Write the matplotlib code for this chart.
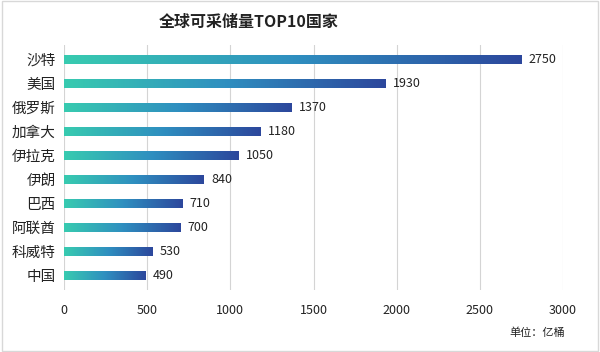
import numpy as np
import matplotlib.pyplot as plt
from matplotlib.colors import LinearSegmentedColormap
from matplotlib.patches import Rectangle

plt.rcParams['font.family'] = ['Noto Sans CJK SC', 'DejaVu Sans']

countries = ['沙特', '美国', '俄罗斯', '加拿大', '伊拉克', '伊朗', '巴西', '阿联酋', '科威特', '中国']
reserves = [2750, 1930, 1370, 1180, 1050, 840, 710, 700, 530, 490]
xticks = [0, 500, 1000, 1500, 2000, 2500, 3000]

cmap = LinearSegmentedColormap.from_list('bar', ['#38cbb0', '#2f8fc0', '#2c479c'])
grad = np.linspace(0, 1, 256).reshape(1, -1)

fig = plt.figure(figsize=(6, 3.52), dpi=100)
fig.patches.append(Rectangle((0.003, 0.003), 0.994, 0.994, transform=fig.transFigure,
                             fill=False, edgecolor='#d8d8d8', linewidth=1))
ax = fig.add_axes([64 / 600, 1 - 290 / 352, 499 / 600, 245 / 352])

ypos = np.arange(len(countries))
bar_h = 0.36
for y, v in zip(ypos, reserves):
    rect = Rectangle((0, y - bar_h / 2), v, bar_h, facecolor='none', edgecolor='none')
    ax.add_patch(rect)
    im = ax.imshow(grad, cmap=cmap, aspect='auto', extent=(0, v, y + bar_h / 2, y - bar_h / 2),
                   zorder=2)
    im.set_clip_path(rect)
    ax.text(v + 45, y, str(v), va='center', ha='left', fontsize=9, color='#222222')

ax.set_xlim(0, 3000)
ax.set_ylim(9.6, -0.6)
ax.set_xticks(xticks)
ax.set_xticklabels([str(t) for t in xticks], fontsize=9)
ax.set_yticks(ypos)
ax.set_yticklabels(countries, fontsize=10.5)
ax.tick_params(axis='both', length=0, colors='#222222')
ax.tick_params(axis='x', pad=10)
ax.tick_params(axis='y', pad=6)
ax.grid(axis='x', color='#d4d4d4', linewidth=0.8, zorder=0)
ax.set_axisbelow(True)
for s in ax.spines.values():
    s.set_visible(False)

fig.text(249 / 600, 1 - 22 / 352, '全球可采储量TOP10国家', ha='center', va='center',
         fontsize=11.5, fontweight='bold', color='#222222')
fig.text(537 / 600, 1 - 333 / 352, '单位：亿桶', ha='center', va='center', fontsize=8, color='#222222')

fig.savefig('out.png', dpi=100)
